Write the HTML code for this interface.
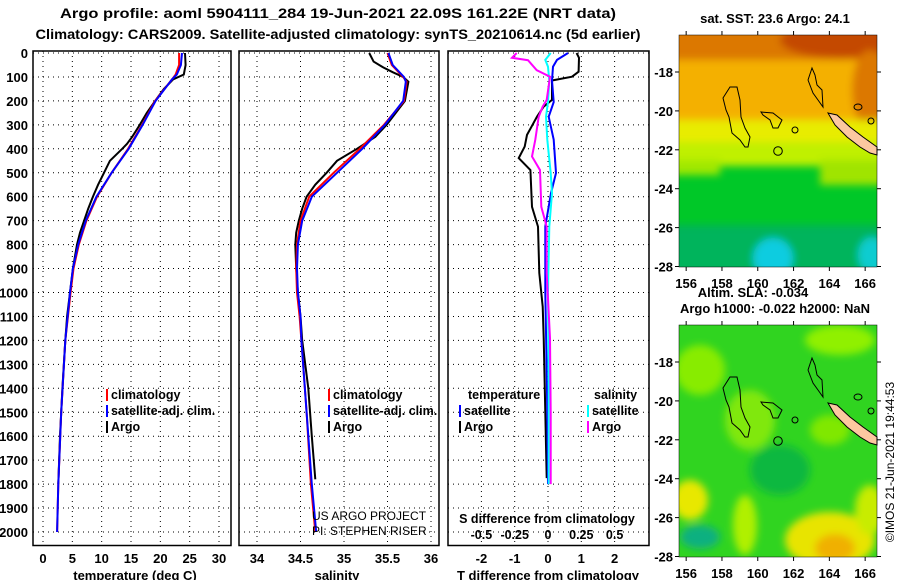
<!DOCTYPE html>
<html><head><meta charset="utf-8"><style>
html,body{margin:0;padding:0;background:#fff;}
svg{display:block;font-family:"Liberation Sans",Arial,sans-serif;font-weight:bold;}
</style></head><body>
<svg id="c" width="900" height="580" viewBox="0 0 900 580" xmlns="http://www.w3.org/2000/svg">
<defs>
<filter id="bl" x="-20%" y="-20%" width="140%" height="140%"><feGaussianBlur stdDeviation="4"/></filter>
<clipPath id="mc1"><rect x="679" y="35" width="198" height="232"/></clipPath>
<clipPath id="mc2"><rect x="679" y="325" width="198" height="232"/></clipPath>
</defs>
<text x="338" y="18" text-anchor="middle" font-size="14" textLength="556" lengthAdjust="spacingAndGlyphs">Argo profile: aoml 5904111_284 19-Jun-2021 22.09S 161.22E (NRT data)</text>
<text x="338" y="39" text-anchor="middle" font-size="14" textLength="605" lengthAdjust="spacingAndGlyphs">Climatology: CARS2009. Satellite-adjusted climatology: synTS_20210614.nc (5d earlier)</text>

<g id="p1"></g>
<g id="p2"></g>
<g id="p3"></g>

<!-- Top map -->
<g>
<g clip-path="url(#mc1)">
<rect x="679" y="35" width="198" height="232" fill="#00c828"/>
<g filter="url(#bl)">
<rect x="660" y="20" width="240" height="105" fill="#f4b000"/>
<rect x="660" y="20" width="240" height="40" fill="#dc7800"/>
<ellipse cx="840" cy="40" rx="60" ry="18" fill="#c44800"/>
<ellipse cx="870" cy="90" rx="18" ry="40" fill="#dc7800"/>
<rect x="660" y="120" width="240" height="25" fill="#e8ec00"/>
<rect x="660" y="142" width="240" height="24" fill="#c0f000"/>
<rect x="660" y="160" width="60" height="15" fill="#a0e800"/>
<rect x="820" y="160" width="80" height="25" fill="#a0e400"/>
<rect x="660" y="225" width="240" height="50" fill="#00b45c"/>
<ellipse cx="773" cy="258" rx="20" ry="20" fill="#10cce0"/>
<ellipse cx="872" cy="255" rx="14" ry="18" fill="#10ccd0"/>
</g>
</g>
</g>
<!-- Bottom map -->
<g>
<g clip-path="url(#mc2)">
<rect x="679" y="325" width="198" height="232" fill="#30d420"/>
<g filter="url(#bl)">
<ellipse cx="700" cy="370" rx="25" ry="25" fill="#88ec00"/>
<ellipse cx="750" cy="420" rx="25" ry="30" fill="#80e810"/>
<ellipse cx="840" cy="340" rx="35" ry="15" fill="#90f000"/>
<ellipse cx="830" cy="430" rx="20" ry="15" fill="#80e800"/>
<ellipse cx="780" cy="470" rx="30" ry="25" fill="#10b840"/>
<ellipse cx="690" cy="500" rx="18" ry="20" fill="#e8e800"/>
<ellipse cx="700" cy="537" rx="20" ry="12" fill="#10b080"/>
<ellipse cx="745" cy="525" rx="12" ry="30" fill="#b0f000"/>
<ellipse cx="830" cy="540" rx="45" ry="28" fill="#e8e400"/>
<ellipse cx="835" cy="548" rx="20" ry="14" fill="#f0b000"/>
<ellipse cx="870" cy="510" rx="15" ry="25" fill="#c8ec00"/>
</g>
</g>
</g>
<g id="coast1" fill="none" stroke="#000" stroke-width="1">
<polygon points="723,98 730,87 737,87 740,100 741,117 745,128 750,137 748,147 745,147 740,140 732,133 729,117 726,110"/>
<polygon points="761,112 773,113 782,120 778,128 773,128 770,120 763,115"/>
<circle cx="778" cy="151" r="4.3"/>
<polyline points="808,80 812,68 815,75 817,85 822,90 823,107 818,100 813,93 808,80"/>
<polygon points="828,113 837,115 850,127 863,137 877,147 877,155 870,153 860,147 847,137 835,125" fill="#fcc8a0"/>
<ellipse cx="858" cy="107" rx="4" ry="3"/>
<ellipse cx="871" cy="121" rx="3" ry="3"/>
<ellipse cx="795" cy="130" rx="3" ry="3"/>
</g>
<use href="#coast1" transform="translate(0,290)"/>
<rect x="679" y="35" width="198" height="232" fill="none" stroke="#000" stroke-width="0.5"/>
<rect x="679" y="325" width="198" height="232" fill="none" stroke="#000" stroke-width="0.5"/>
<g id="mapaxes" font-size="13"></g>
<text x="775" y="23" text-anchor="middle" font-size="13">sat. SST: 23.6 Argo: 24.1</text>
<text x="753" y="297" text-anchor="middle" font-size="13">Altim. SLA: -0.034</text>
<text x="775" y="313" text-anchor="middle" font-size="13">Argo h1000: -0.022 h2000: NaN</text>
<text transform="translate(894,462) rotate(-90)" text-anchor="middle" font-size="12" font-weight="normal">©IMOS 21-Jun-2021 19:44:53</text>
</svg>
<script>
const NS="http://www.w3.org/2000/svg";
// ---- data ----
const tDepthArgo=[0,50,90,110,150,200,250,300,350,380,400,450,500,550,600,650,700,750,800,900,1000,1100,1200,1400,1600,1800];
const tArgo=[24.2,24.3,24.0,22.2,20.6,19.1,17.7,16.5,15.2,14.3,13.5,11.4,10.4,9.4,8.5,7.7,7.0,6.3,5.8,5.1,4.6,4.1,3.8,3.3,2.9,2.6];
const tDepthClim=[0,50,90,110,200,300,400,500,600,700,800,900,1000,1200,1500,1800,2000];
const tClim=[23.2,23.2,22.6,22.0,19.1,16.9,14.5,11.7,9.2,7.4,6.1,5.2,4.7,3.8,3.1,2.6,2.4];
const tSat=[23.7,23.5,22.8,22.0,19.2,17.0,14.6,11.7,9.1,7.3,6.0,5.1,4.6,3.8,3.1,2.6,2.4];
const sDepthArgo=[0,36,60,80,100,120,200,300,350,400,450,500,550,600,650,700,750,800,900,1000,1100,1200,1400,1600,1780];
const sArgo=[35.29,35.34,35.45,35.56,35.68,35.74,35.70,35.49,35.36,35.15,34.92,34.80,34.67,34.57,34.52,34.48,34.45,34.44,34.45,34.47,34.50,34.52,34.59,34.63,34.67];
const sDepthClim=[0,50,100,120,200,300,400,500,600,700,800,900,1000,1100,1200,1500,1800,2000];
const sClim=[35.50,35.55,35.68,35.72,35.69,35.46,35.18,34.88,34.60,34.50,34.46,34.45,34.46,34.49,34.51,34.57,34.62,34.67];
const sSat=[35.51,35.56,35.69,35.71,35.68,35.47,35.21,34.92,34.63,34.52,34.47,34.46,34.47,34.50,34.51,34.57,34.63,34.68];
const dDepthT=[0,20,78,99,115,196,224,266,342,391,439,489,642,725,919,1059,1190,1500,1775];
const dTArgo=[0.86,0.93,0.92,0.72,0.12,0.12,-0.13,-0.33,-0.63,-0.70,-0.88,-0.53,-0.48,-0.30,-0.26,-0.16,-0.13,-0.08,-0.04];
const dDepthSat=[0,29,57,115,205,266,362,501,585,725,1000,1400,1800];
const dTSat=[0.60,0.27,0.15,0.12,0.17,0.02,0.17,0.24,0.09,-0.08,-0.08,-0.03,0.0];
const dSSat=[0.02,-0.02,0.0,0.01,0.0,-0.015,-0.005,0.02,0.03,0.01,0.0,0.005,0.005];
const dDepthS=[0,20,30,72,99,196,224,266,362,432,489,642,725,919,1190,1500,1800];
const dSArgo=[-0.235,-0.27,-0.15,-0.085,0.015,-0.01,-0.04,-0.07,-0.095,-0.12,-0.06,-0.05,-0.01,-0.01,0.015,0.02,0.02];
const depthTicks=[0,100,200,300,400,500,600,700,800,900,1000,1100,1200,1300,1400,1500,1600,1700,1800,1900,2000];
const tTicks=[0,5,10,15,20,25,30];
const sTicks=[34,34.5,35,35.5,36];
const dTTicks=[-2,-1,0,1,2];
const dSTicks=[-0.5,-0.25,0,0.25,0.5];
const dSTickLabels=["-0.5","-0.25","0","0.25","0.5"];
const lonTicks=[156,158,160,162,164,166];
const latTicks=[-18,-20,-22,-24,-26,-28];

// ---- scales ----
const Y=d=>53+d*0.2395;
const XT=v=>43+v*5.867;
const XS=v=>257+(v-34)*87;
const XD=v=>548+v*33.3;
const XDS=v=>548+v*133.2;
const PT=53-2, PB=545.5;

function el(tag,attrs,parent,txt){const e=document.createElementNS(NS,tag);for(const k in attrs)e.setAttribute(k,attrs[k]);if(txt!==undefined)e.textContent=txt;parent.appendChild(e);return e;}

function frame(g,x0,x1,xticks,xf,labels,name){
  for(const d of depthTicks){const l=el('line',{x1:x0,x2:x1,y1:Y(d),y2:Y(d),stroke:'#000','stroke-width':1,'stroke-dasharray':'1,4'},g);
    
    }
  xticks.forEach((v,i)=>{const l=el('line',{x1:xf(v),x2:xf(v),y1:PT,y2:PB,stroke:'#000','stroke-width':1,'stroke-dasharray':'1,4'},g);
    
    
    if(labels){const t=el('text',{x:xf(v),y:563,'text-anchor':'middle','font-size':13},g,labels[i]);
      
      }
  });
  const r=el('rect',{x:x0,y:PT,width:x1-x0,height:PB-PT,fill:'none',stroke:'#000','stroke-width':1.5},g);
  
  
}
function line(g,xs,ds,xf,color,name){
  const pts=xs.map((v,i)=>xf(v).toFixed(1)+','+Y(ds[i]).toFixed(1)).join(' ');
  const p=el('polyline',{points:pts,fill:'none',stroke:color,'stroke-width':2},g);
  
  
}
function legend(g,x,y,color,txt,name){
  const r=el('rect',{x:x,y:y-10,width:2,height:12,fill:color},g);
  
  
  const t=el('text',{x:x+5,y:y,'font-size':12.5},g,txt);
  
  
}

// panel 1
const g1=document.getElementById('p1');
frame(g1,33,231,tTicks,XT,tTicks.map(String),'temperature-panel');
for(const d of depthTicks){const t=el('text',{x:28,y:Y(d)+5,'text-anchor':'end','font-size':13},g1,String(d));
  
  }
line(g1,tArgo,tDepthArgo,XT,'#000','temp-argo-line');
line(g1,tClim,tDepthClim,XT,'#f00','temp-climatology-line');
line(g1,tSat,tDepthClim,XT,'#00f','temp-satellite-line');
legend(g1,106,399,'#f00','climatology','legend-climatology');
legend(g1,106,415,'#00f','satellite-adj. clim.','legend-satellite');
legend(g1,106,431,'#000','Argo','legend-argo');
const xt1=el('text',{x:135,y:580,'text-anchor':'middle','font-size':13},g1,'temperature (deg C)');



// panel 2
const g2=document.getElementById('p2');
frame(g2,239,439,sTicks,XS,["34","34.5","35","35.5","36"],'salinity-panel');
line(g2,sArgo,sDepthArgo,XS,'#000','sal-argo-line');
line(g2,sClim,sDepthClim,XS,'#f00','sal-climatology-line');
line(g2,sSat,sDepthClim,XS,'#00f','sal-satellite-line');
legend(g2,328,399,'#f00','climatology','legend-climatology-sal');
legend(g2,328,415,'#00f','satellite-adj. clim.','legend-satellite-sal');
legend(g2,328,431,'#000','Argo','legend-argo-sal');
const c1=el('text',{x:312,y:520,'font-size':12,'font-weight':'normal'},g2,'US ARGO PROJECT');


const c2=el('text',{x:312,y:535,'font-size':12,'font-weight':'normal'},g2,'PI: STEPHEN RISER');


const xt2=el('text',{x:337,y:580,'text-anchor':'middle','font-size':13},g2,'salinity');



// panel 3
const g3=document.getElementById('p3');
const wb=el('rect',{x:455,y:506,width:185,height:38,fill:'#fff'},g3);


frame(g3,448,649,dTTicks,XD,dTTicks.map(String),'difference-panel');
line(g3,dTArgo,dDepthT,XD,'#000','tdiff-argo-line');
line(g3,dTSat,dDepthSat,XD,'#00f','tdiff-satellite-line');
line(g3,dSSat,dDepthSat,XDS,'#0ff','sdiff-satellite-line');
line(g3,dSArgo,dDepthS,XDS,'#f0f','sdiff-argo-line');
const lt=el('text',{x:468,y:399,'font-size':12.5},g3,'temperature');


const ls=el('text',{x:594,y:399,'font-size':12.5},g3,'salinity');


legend(g3,459,415,'#00f','satellite','legend-t-satellite');
legend(g3,459,431,'#000','Argo','legend-t-argo');
legend(g3,587,415,'#0ff','satellite','legend-s-satellite');
legend(g3,587,431,'#f0f','Argo','legend-s-argo');
const sh=el('text',{x:547,y:523,'text-anchor':'middle','font-size':12.5},g3,'S difference from climatology');


dSTicks.forEach((v,i)=>{const t=el('text',{x:XDS(v),y:539,'text-anchor':'middle','font-size':12.5},g3,dSTickLabels[i]);
  
  });
const xt3=el('text',{x:548,y:580,'text-anchor':'middle','font-size':13},g3,'T difference from climatology');



// map axes
const ma=document.getElementById('mapaxes');
const LX=lon=>679+(lon-155.6)*17.9;
[[35,72],[325,362]].forEach(([top,y18],k)=>{
  const LY=lat=>y18+(-18-lat)*19.45;
  for(const lat of latTicks){
    el('line',{x1:675,x2:679,y1:LY(lat),y2:LY(lat),stroke:'#000'},ma);
    el('line',{x1:877,x2:881,y1:LY(lat),y2:LY(lat),stroke:'#000'},ma);
    const t=el('text',{x:673,y:LY(lat)+5,'text-anchor':'end'},ma,String(lat));
    
    
  }
  for(const lon of lonTicks){
    el('line',{x1:LX(lon),x2:LX(lon),y1:top-4,y2:top,stroke:'#000'},ma);
    el('line',{x1:LX(lon),x2:LX(lon),y1:top+232,y2:top+236,stroke:'#000'},ma);
    const t=el('text',{x:LX(lon),y:top+253,'text-anchor':'middle'},ma,String(lon));
    
    
  }
});
</script>
</body></html>
